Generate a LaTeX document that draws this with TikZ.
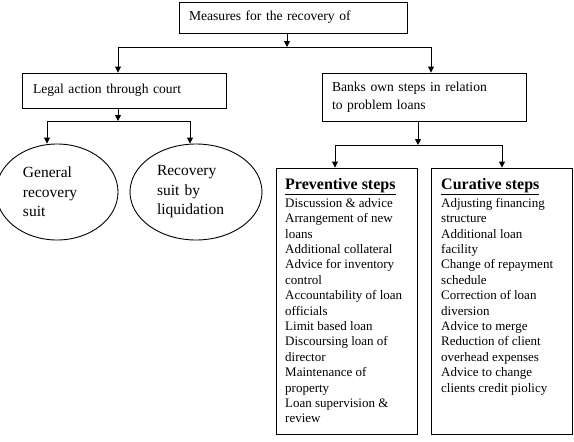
\documentclass[tikz,border=0pt]{standalone}
\usepackage{fontspec}
\setmainfont{Liberation Serif}
\usetikzlibrary{arrows.meta,shapes.geometric}
\begin{document}
\begin{tikzpicture}[x=1pt,y=-1pt,
  box/.style={draw,line width=0.9pt,rectangle,inner xsep=0pt,inner ysep=0pt},
  oval/.style={draw,line width=0.9pt,ellipse,inner sep=0pt,align=left,font=\fontsize{15.5}{19.5}\selectfont},
  btext/.style={font=\fontsize{13.6}{18}\selectfont,align=left},
  ltext/.style={font=\fontsize{13}{15.4}\selectfont,align=left,anchor=north west,inner sep=0pt},
  arr/.style={line width=0.9pt,-{Triangle[length=6pt,width=6pt]}},
  ln/.style={line width=0.9pt}]
\useasboundingbox (0,0) rectangle (574,442);
% top box
\node[box,minimum width=228,minimum height=31,text width=208,btext] (top) at (293,17.5) {Measures for the recovery of};
% second level
\node[box,minimum width=204,minimum height=35,text width=182,btext] (legal) at (124,90.5) {Legal action through court};
\node[box,minimum width=204,minimum height=48,text width=184,btext] (banks) at (424,97) {Banks own steps in relation\\to problem loans};
% ellipses
\node[oval,minimum width=122,minimum height=96,text width=68] (gen) at (57,192) {General\\recovery\\suit};
\node[oval,minimum width=132,minimum height=96,text width=78] (liq) at (196,192) {Recovery\\suit by\\liquidation};
% lists
\node[box,minimum width=141,minimum height=266] (prev) at (346.5,301) {};
\node[box,minimum width=141,minimum height=266] (cur) at (501.5,301) {};
\node[ltext] (prevt) at (285,178) {{\fontsize{16}{18}\selectfont\bfseries\underline{Preventive steps}}\\[2.5pt]
Discussion \& advice\\Arrangement of new\\loans\\Additional collateral\\Advice for inventory\\control\\Accountability of loan\\officials\\Limit based loan\\Discoursing loan of\\director\\Maintenance of\\property\\Loan supervision \&\\review};
\node[ltext] (curt) at (441,178) {{\fontsize{16}{18}\selectfont\bfseries\underline{Curative steps}}\\[2.5pt]
Adjusting financing\\structure\\Additional loan\\facility\\Change of repayment\\schedule\\Correction of loan\\diversion\\Advice to merge\\Reduction of client\\overhead expenses\\Advice to change\\clients credit piolicy};
% junctions
\coordinate (j1) at (287,47);
\coordinate (j1l) at (118,47);
\coordinate (j1r) at (431,47);
\coordinate (j2) at (118,121);
\coordinate (j2l) at (47,121);
\coordinate (j2r) at (190,121);
\coordinate (j3) at (418,145);
\coordinate (j3l) at (335,145);
\coordinate (j3r) at (502,145);
% connectors
\draw[arr] (top.south -| j1) -- (j1);
\draw[ln] (j1l) -- (j1r);
\draw[arr] (j1l) -- (legal.north -| j1l);
\draw[arr] (j1r) -- (banks.north -| j1r);
\draw[arr] (legal.south -| j2) -- (j2);
\draw[ln] (j2l) -- (j2r);
\draw[arr] (j2l) -- (gen.north -| j2l);
\draw[arr] (j2r) -- (liq.north -| j2r);
\draw[arr] (banks.south -| j3) -- (j3);
\draw[ln] (j3l) -- (j3r);
\draw[arr] (j3l) -- (prev.north -| j3l);
\draw[arr] (j3r) -- (cur.north -| j3r);
\end{tikzpicture}
\end{document}
